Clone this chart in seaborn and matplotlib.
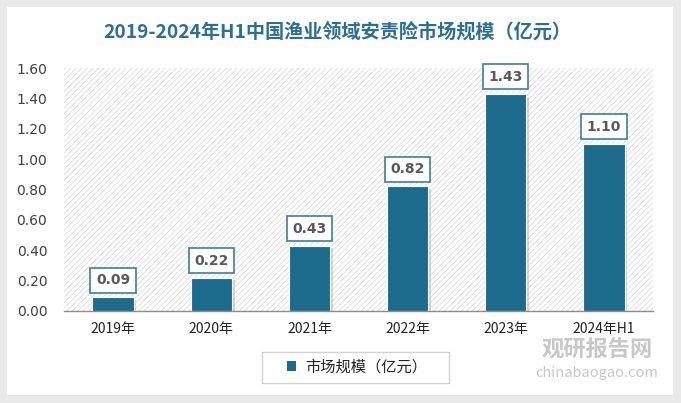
import matplotlib
matplotlib.use("Agg")
import matplotlib.pyplot as plt
import seaborn as sns
import pandas as pd
from matplotlib.patches import Rectangle, Patch
import matplotlib.patheffects as pe

categories = ["2019年", "2020年", "2021年", "2022年", "2023年", "2024年H1"]
values = [0.09, 0.22, 0.43, 0.82, 1.43, 1.10]
series_name = "市场规模（亿元）"
title = "2019-2024年H1中国渔业领域安责险市场规模（亿元）"

sns.set_theme(style="white")
plt.rcParams['font.family'] = ['Noto Sans CJK SC', 'DejaVu Sans']
plt.rcParams['hatch.linewidth'] = 0.6

df = pd.DataFrame({"year": categories, "value": values})

fig = plt.figure(figsize=(6.81, 4.03), dpi=100)
fig.patch.set_facecolor("#E9E9E9")
card = Rectangle((7/681, 8/403), (673-7)/681, (396-8)/403, transform=fig.transFigure,
                 facecolor="white", edgecolor="none", zorder=-5)
fig.patches.append(card)

ax = fig.add_axes([64/681, 92/403, 589/681, 243/403])
ax.set_facecolor("none")
bg = Rectangle((0, 0), 1, 1, transform=ax.transAxes, facecolor="white",
               edgecolor="#DADADA", hatch="//////", linewidth=0, zorder=0)
ax.add_patch(bg)

bar_color = "#1C6B8D"
sns.barplot(data=df, x="year", y="value", color=bar_color, width=0.42, ax=ax,
            saturation=1, zorder=3, edgecolor="white", linewidth=0.8)
for p in ax.patches[1:]:
    p.set_path_effects([pe.SimplePatchShadow(offset=(2, -2), shadow_rgbFace="#999999", alpha=0.4), pe.Normal()])

for i, v in enumerate(values):
    ax.annotate(f"{v:.2f}", xy=(i, v), xytext=(0, 17), textcoords="offset pixels",
                ha="center", va="center", fontsize=10, fontweight="bold", color="#595959",
                family=['DejaVu Sans'],
                bbox=dict(boxstyle="square,pad=0.4", facecolor="white", edgecolor="#3A7FA0", linewidth=1.2),
                zorder=5)

ax.set_ylim(0, 1.6)
ax.set_xlim(-0.5, 5.5)
ticks = [0, 0.2, 0.4, 0.6, 0.8, 1.0, 1.2, 1.4, 1.6]
ax.set_yticks(ticks)
ax.set_yticklabels([f"{t:.2f}" for t in ticks], fontsize=10, color="#404040", family=['DejaVu Sans'])
ax.tick_params(axis="y", length=0, pad=12)
ax.tick_params(axis="x", length=0, pad=8, labelsize=10, labelcolor="#222222")
ax.set_xlabel("")
ax.set_ylabel("")
for s in ["top", "right", "left"]:
    ax.spines[s].set_visible(False)
ax.spines["bottom"].set_color("#8C8C8C")
ax.spines["bottom"].set_linewidth(1.0)
ax.spines["bottom"].set_zorder(6)

fig.text(337/681, 1 - 32/403, title, ha="center", va="center", fontsize=13.8, fontweight="bold", color="#2B6F95")

# legend box
lbox = Rectangle((262/681, 1 - 383/403), (449-262)/681, 31/403, transform=fig.transFigure,
                 facecolor="white", edgecolor="#D3D3D3", linewidth=1.0, zorder=1)
fig.patches.append(lbox)
h = [Patch(facecolor=bar_color, edgecolor="none")]
leg = fig.legend(h, [series_name], loc="center", bbox_to_anchor=(357/681, 1 - 367/403),
                 frameon=False, fontsize=11, handlelength=0.55, handleheight=0.55, handletextpad=0.6,
                 borderpad=0.2)
for t in leg.get_texts():
    t.set_color("#222222")

fig.text(597/681, 1 - 350/403, "观研报告网", ha="center", va="center", fontsize=16, fontweight="bold",
         color="#9A9A9A", alpha=0.55, zorder=10)
fig.text(597/681, 1 - 373/403, "chinabaogao.com", ha="center", va="center", fontsize=10.5,
         color="#9A9A9A", alpha=0.55, zorder=10)

fig.savefig("out.png", dpi=100, facecolor=fig.get_facecolor())
